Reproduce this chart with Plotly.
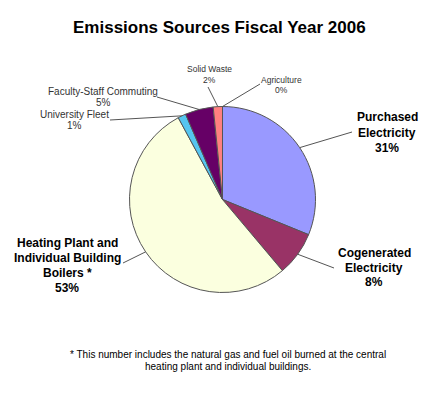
import math
import plotly.graph_objects as go

categories = ["Purchased Electricity", "Cogenerated Electricity",
              "Heating Plant and Individual Building Boilers *",
              "University Fleet", "Faculty-Staff Commuting", "Solid Waste", "Agriculture"]
values = [31.2, 7.7, 53.3, 1.4, 4.9, 1.6, 0.0]
label_lines = [["Purchased", "Electricity"], ["Cogenerated", "Electricity"],
               ["Heating Plant and", "Individual Building", "Boilers *"],
               ["University Fleet"], ["Faculty-Staff Commuting"], ["Solid Waste"], ["Agriculture"]]
colors = ["#9999FF", "#993366", "#FBFFDF", "#55C5F0", "#660066", "#FF8080", "#CCCCFF"]

W, H = 432, 393
CX, CY, R = 222.5, 199.5, 93.0

def px(x):
    return x / W

def py(y):
    return 1 - y / H

# label styling / placement (pixels): center x, first-line y, line height, size, bold, leader end
label_style = [
    dict(x=387, y=117, lh=15.5, size=12, bold=True, end=(352, 132)),
    dict(x=374, y=253, lh=14.5, size=12, bold=True, end=(334, 268)),
    dict(x=67, y=243, lh=15, size=12, bold=True, end=(123, 263)),
    dict(x=74, y=114, lh=12, size=10, bold=False, end=(110, 120)),
    dict(x=103, y=91, lh=12, size=10, bold=False, end=(157, 97)),
    dict(x=209.5, y=69, lh=10.5, size=8.5, bold=False, end=(208, 87)),
    dict(x=281, y=80, lh=10, size=8.5, bold=False, end=(260, 84)),
]

fig = go.Figure()
fig.add_trace(go.Pie(
    labels=categories, values=values, sort=False, direction="clockwise", rotation=0,
    marker=dict(colors=colors, line=dict(color="#555555", width=1)),
    textinfo="none", hoverinfo="label+percent", showlegend=False,
    domain=dict(x=[px(CX - R), px(CX + R)], y=[py(CY + R), py(CY - R)]),
))

total = sum(values)
shapes = []
annotations = []
cum = 0.0
for v, lines, st in zip(values, label_lines, label_style):
    mid = (cum + v / 2) / total
    cum += v
    ang = 2 * math.pi * mid
    ex, ey = CX + R * math.sin(ang), CY - R * math.cos(ang)
    lx, ly = st["end"]
    shapes.append(dict(type="line", xref="paper", yref="paper",
                       x0=px(ex), y0=py(ey), x1=px(lx), y1=py(ly),
                       line=dict(color="#555555", width=1)))
    pct = f"{v / total * 100:.0f}%"
    all_lines = lines + [pct]
    for i, t in enumerate(all_lines):
        txt = f"<b>{t}</b>" if st["bold"] else t
        annotations.append(dict(
            text=txt, xref="paper", yref="paper", x=px(st["x"]), y=py(st["y"] + i * st["lh"]),
            xanchor="center", yanchor="middle", showarrow=False,
            font=dict(size=st["size"], color="#000000" if st["bold"] else "#333333",
                      family="Arial, Liberation Sans, sans-serif")))

annotations.append(dict(
    text="<b>Emissions Sources Fiscal Year 2006</b>", xref="paper", yref="paper",
    x=px(219), y=py(27), xanchor="center", yanchor="middle", showarrow=False,
    font=dict(size=17, color="#000000", family="Arial, Liberation Sans, sans-serif")))
for i, t in enumerate(["* This number includes the natural gas and fuel oil burned at the central",
                       "heating plant and individual buildings."]):
    annotations.append(dict(
        text=t, xref="paper", yref="paper", x=px(228), y=py(354 + i * 12),
        xanchor="center", yanchor="middle", showarrow=False,
        font=dict(size=10, color="#000000", family="Arial, Liberation Sans, sans-serif")))

fig.update_layout(width=W, height=H, margin=dict(l=0, r=0, t=0, b=0),
                  paper_bgcolor="white", plot_bgcolor="white",
                  shapes=shapes, annotations=annotations)
fig.write_html("out.html", config={"displayModeBar": False},
               post_script="document.body.style.margin='0';document.body.style.padding='0';")
